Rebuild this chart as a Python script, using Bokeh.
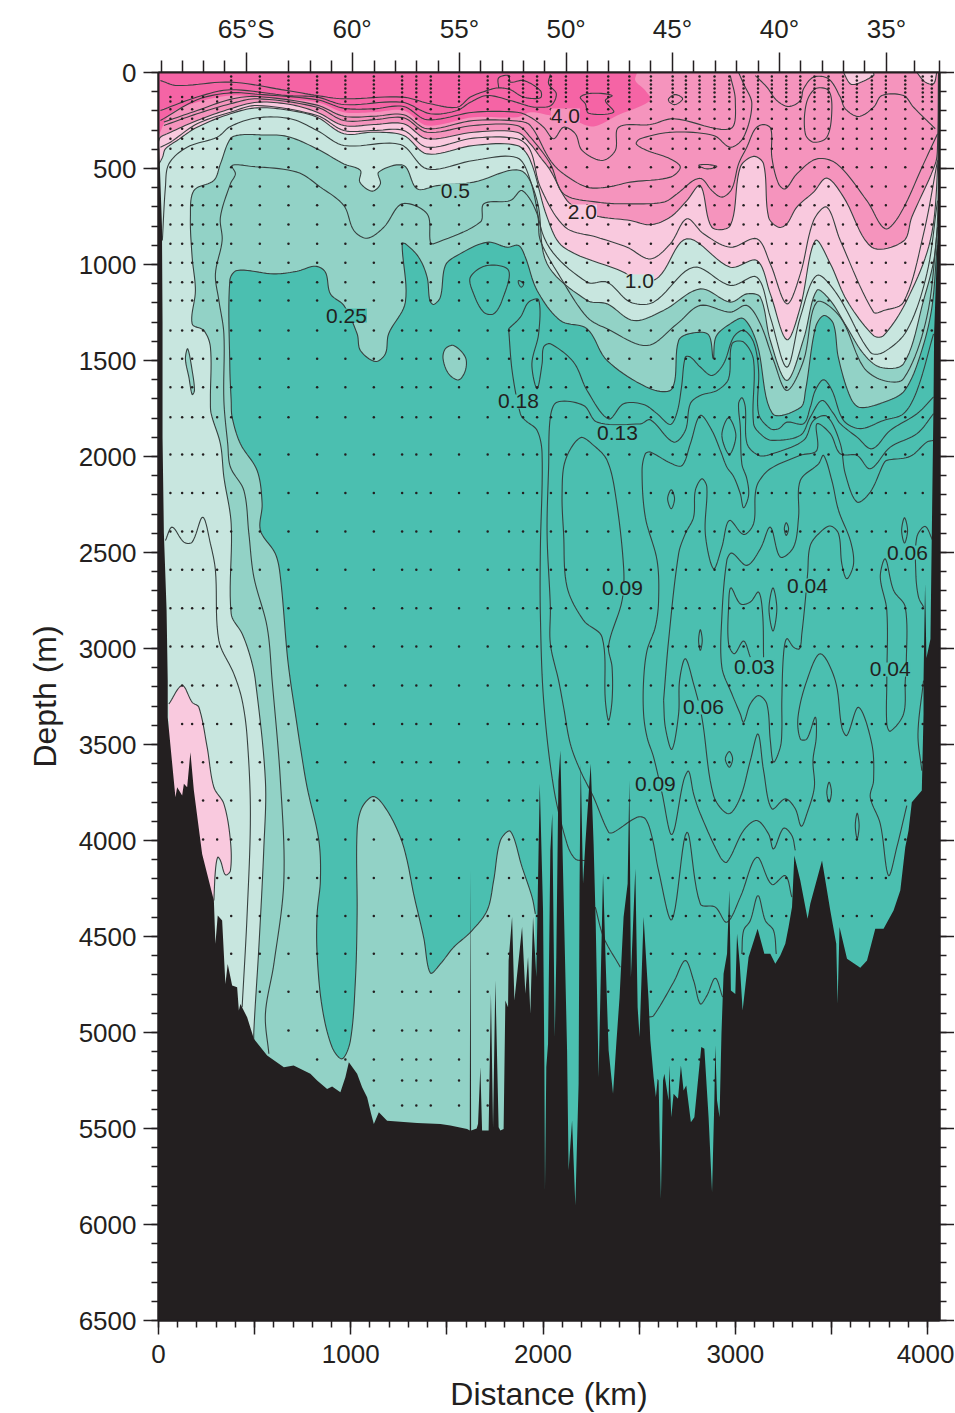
from bokeh.plotting import figure
from bokeh.embed import file_html
from bokeh.resources import INLINE
from bokeh.models import Range1d, LinearAxis, FixedTicker, Label

# ---------- colours ----------
HOT = "#f564a5"; MED = "#f594bd"; LPK = "#f9c9de"; LGR = "#c8e6df"; MGR = "#92d2c6"; TEAL = "#4bbfb0"; INK = "#231f20"
LINE_COL = "#37403f"

# ---------- band boundaries (distance km, depth m) ----------
hot_bottom = [(0,340),(5,319),(62,215),(201,155),(374,120),(513,128),(825,155),(964,207),(1120,207),(1275,198),(1397,276),(1639,233),(1865,233),(1934,207),(2038,224),(2159,250),(2263,281),(2385,224),(2558,146),(2532,94),(2480,42),(2489,0)]
med_bottom = [(0,360),(10,337),(45,319),(201,250),(374,189),(513,155),(686,167),(825,207),(964,276),(1120,271),(1275,267),(1397,345),(1639,311),(1865,311),(1934,372),(1986,441),(2038,510),(2125,667),(2203,719),(2289,750),(2454,771),(2558,793),(2662,753),(2748,667),(2818,589),(2878,806),(2974,797),(3026,493),(3095,437),(3147,476),(3173,753),(3225,806),(3268,788),(3320,701),(3407,623),(3476,550),(3563,649),(3710,910),(3875,878),(3918,753),(4040,476),(4052,372),(4057,0)]
lpk_bottom = [(0,480),(21,441),(36,398),(97,354),(201,285),(374,215),(513,184),(686,198),(825,233),(964,319),(1120,311),(1275,328),(1397,424),(1639,380),(1865,380),(1934,458),(2021,753),(2107,910),(2419,1040),(2497,1092),(2601,1066),(2748,866),(2974,1014),(3112,979),(3182,1153),(3268,1392),(3338,1222),(3416,875),(3494,996),(3580,1187),(3719,1370),(3771,1370),(3892,1187),(4014,875),(4052,493),(4057,0)]
lgr_bound = [(496,5100),(496,4990),(522,4556),(548,4035),(556,3688),(504,3167),(478,3045),(435,2923),(378,2819),(378,2350),(340,2107),(322,1934),(274,1777),(270,1708),(270,1430),(236,1344),(175,1309),(192,1135),(175,962),(166,753),(184,615),(288,562),(322,476),(374,345),(426,325),(530,325),(669,333),(825,398),(964,476),(1050,510),(1047,571),(1111,618),(1154,580),(1145,519),(1275,484),(1345,606),(1449,589),(1639,571),(1882,510),(1969,667),(2021,996),(2229,1187),(2333,1205),(2471,1292),(2627,1239),(2818,1127),(2974,1196),(3060,1153),(3130,1170),(3182,1396),(3268,1604),(3355,1389),(3424,1135),(3494,1187),(3580,1326),(3667,1465),(3754,1535),(3875,1517),(3979,1187),(4040,927),(4057,493),(4057,0)]
teal_bound = [(1960,4382),(1943,4295),(1891,4139),(1830,3952),(1778,4000),(1743,4209),(1709,4365),(1622,4478),(1535,4556),(1466,4643),(1414,4690),(1379,4504),(1327,4278),(1293,4104),(1258,3983),(1189,3844),(1120,3771),(1059,3827),(1033,3948),(1033,4382),(1024,4729),(998,5042),(955,5137),(903,5077),(851,4868),(825,4591),(825,4382),(842,4209),(834,4000),(773,3723),(738,3514),(712,3341),(686,3167),(669,3027),(634,2628),(608,2507),(530,2385),(539,2246),(513,2073),(426,1934),(383,1795),(378,1708),(371,1535),(371,1083),(409,1031),(600,1049),(721,1035),(816,1009),(868,1040),(894,1153),(964,1213),(1033,1361),(1050,1448),(1128,1505),(1180,1465),(1197,1361),(1284,1196),(1267,892),(1284,892),(1353,962),(1397,1066),(1411,1187),(1431,1208),(1466,1170),(1492,1005),(1553,953),(1709,884),(1813,910),(1873,901),(1908,962),(1969,1135),(2090,1292),(2229,1335),(2333,1500),(2558,1647),(2671,1647),(2705,1396),(2767,1359),(2860,1365),(2885,1490),(2900,1375),(2975,1308),(3043,1282),(3113,1413),(3193,1776),(3339,1745),(3365,1657),(3417,1328),(3460,1266),(3510,1308),(3536,1485),(3599,1693),(3650,1745),(3797,1708),(3880,1657),(3953,1500),(4020,1240),(4050,900)]
oval_mid = [(1535,1422),(1596,1483),(1596,1552),(1561,1601),(1509,1569),(1480,1491),(1492,1439),(1535,1422)]
oval_left = [(152,1439),(175,1552),(187,1656),(175,1677),(158,1587),(140,1491),(152,1439)]
pink_patch = [(54,3289),(123,3193),(175,3280),(210,3306),(253,3514),(288,3723),(340,3809),(374,4000),(374,4157),(348,4179),(322,4104),(308,4087),(296,4157),(288,4313)]
patch_tr1 = [(3563,0),(3598,59),(3632,59),(3719,16),(3719,0)]
patch_tr2 = [(3944,0),(3988,50),(4031,59),(4048,0)]
hot_loop = [(2194,128),(2255,108),(2359,120),(2324,146),(2367,207),(2237,212),(2220,163),(2194,128)]

# ---------- contour lines without a colour change ----------
c_surface = [(10,42),(97,68),(374,50),(669,94),(825,120),(964,137),(1267,128),(1414,163),(1553,181),(1622,128),(1709,94),(1769,80),(1830,90),(1899,128),(1986,132),(1986,94),(1899,42),(1830,50),(1821,16),(1769,28),(1769,80)]
c_b1 = [(10,198),(201,128),(374,90),(669,120),(825,128),(964,167),(1267,155),(1414,215),(1553,198),(1622,155),(1709,120),(1830,146),(1934,177),(1969,181),(2041,172),(2069,111),(2029,59),(2038,10)]
c_b2 = [(10,250),(201,142),(374,106),(513,113),(825,142),(964,186),(1120,189),(1275,177),(1397,246),(1639,207),(1865,207),(1934,233),(2003,285),(2055,345),(2107,285),(2168,319),(2203,406),(2307,458),(2376,406),(2393,285),(2558,271),(2679,241),(2974,293),(3000,146),(2974,16)]
c_b3 = [(28,276),(201,215),(374,163),(513,137),(825,181),(964,250),(1120,246),(1275,236),(1397,311),(1639,276),(1865,276),(1934,337),(2038,476),(2107,632),(2281,675),(2454,684),(2627,675),(2697,632),(2783,562),(2826,554),(2878,615),(2931,649),(2982,606),(3017,476),(3060,389),(3104,293),(3147,271),(3185,293),(3190,441),(3225,580),(3260,606),(3320,528),(3424,450),(3528,476),(3684,667),(3780,814),(3858,736),(3979,476),(4052,319)]
c_b4 = [(28,258),(201,198),(374,140),(513,125),(825,170),(964,228),(1120,228),(1275,220),(1397,293),(1639,250),(1865,253),(1934,276),(2038,458),(2107,528),(2229,597),(2333,597),(2454,571),(2662,545),(2714,493),(2662,450),(2541,406),(2485,372),(2506,345),(2671,311),(2887,328),(2974,389),(3043,337),(3086,163),(3043,59),(3017,0)]
c_r2 = [(3104,16),(3164,76),(3216,146),(3277,177),(3338,146),(3355,85),(3407,24),(3485,33),(3546,128),(3572,189),(3641,229),(3719,181),(3762,120),(3875,120),(3927,181),(4040,293)]
c_r2_loop = [(3416,85),(3485,94),(3502,198),(3476,337),(3407,363),(3364,319),(3369,163),(3416,85)]
c_small1 = [(2653,137),(2688,115),(2726,137),(2688,167),(2658,154),(2653,137)]
c_small2 = [(2809,484),(2853,479),(2904,490),(2853,502),(2809,484)]
c_lpk_in = [(10,389),(62,363),(201,267),(374,207),(513,172),(825,224),(964,302),(1120,302),(1275,302),(1397,389),(1639,342),(1865,345),(1934,406),(1986,597),(2116,806),(2281,858),(2437,910),(2558,971),(2662,892),(2748,762),(2835,840),(2974,910),(3112,866),(3182,996),(3268,1205),(3338,1049),(3407,771),(3476,701),(3546,875),(3719,1248),(3771,1240),(3875,1196),(3979,840),(4052,458)]
c_lgr_in = [(20,875),(36,597),(54,476),(149,389),(305,337),(374,281),(513,236),(686,241),(825,302),(964,380),(1258,375),(1397,502),(1639,458),(1865,444),(1934,562),(2021,892),(2229,1092),(2333,1092),(2454,1196),(2575,1196),(2783,1014),(2974,1109),(3112,1066),(3182,1274),(3268,1535),(3338,1274),(3424,1057),(3528,1153),(3702,1457),(3771,1457),(3892,1344),(3996,1049),(4052,667)]
c_mid_in = [(574,5111),(556,4903),(600,4643),(652,4209),(634,3688),(591,3167),(565,2888),(496,2628),(470,2402),(444,2177),(374,2055),(360,1934),(340,1708),(340,1361),(314,1187),(296,1049),(331,875),(322,753),(374,580),(400,528),(383,484),(478,488),(721,519),(842,597),(964,693),(1016,823),(1085,863),(1172,806),(1267,684),(1397,736),(1414,884),(1431,892),(1674,779),(1692,684),(1830,667),(1891,615),(1969,736),(1986,875),(2090,1066),(2229,1274),(2333,1335),(2541,1422),(2697,1309),(2818,1213),(2974,1248),(3060,1213),(3130,1309),(3199,1500),(3268,1656),(3355,1500),(3424,1196),(3546,1274),(3667,1535),(3771,1604),(3875,1595),(3996,1274),(4052,805)]
c_left = [(36,2437),(71,2368),(132,2446),(175,2446),(230,2316),(270,2454),(296,2593),(314,2958),(392,3132),(435,3270),(461,3462),(478,3861),(461,4382),(435,4868)]
c_t_a = [(1622,1066),(1709,1005),(1821,1031),(1787,1187),(1743,1257),(1691,1248),(1639,1153),(1622,1066)]
c_t_s = [(1873,1083),(1899,1100),(1887,1118),(1873,1100),(1873,1083)]
c_t_b = [(1821,1335),(1882,1274),(1925,1196),(1977,1184),(1977,1361),(1942,1517),(1969,1647),(1995,1517),(2003,1430),(2038,1413),(2159,1509),(2229,1656),(2341,1804),(2419,1725),(2523,1729),(2593,1777),(2662,1833),(2697,1770),(2720,1640),(2740,1483),(2766,1482),(2818,1534),(2879,1578),(2939,1517),(2991,1378),(3043,1343),(3095,1404),(3121,1552),(3121,1777),(3182,1855),(3225,1855),(3269,1821),(3355,1829),(3390,1743),(3416,1656),(3459,1600),(3503,1656),(3563,1812),(3650,1855),(3771,1812),(3875,1777),(3945,1656),(4031,1361)]
c_t_c = [(1821,1335),(1840,1560),(1882,1777),(1908,1812),(1969,1864),(1995,1986),(1986,2489),(1986,2819),(2003,3270),(2055,3723),(2125,4018),(2168,4096),(2220,4105)]
c_t_d = [(3294,4295),(3260,4183),(3190,4229),(3112,4087),(3026,4295),(2956,4426),(2896,4347),(2818,4330),(2748,3957),(2670,4413),(2601,4157),(2567,3983),(2532,3887),(2489,3879),(2367,3957),(2341,3957),(2263,3775),(2194,3636),(2142,3497),(2107,3306),(2081,3167),(2038,2975),(2038,2784),(2021,2402),(2029,2055),(2038,1795),(2073,1717),(2211,1734),(2281,1821),(2506,1830),(2558,1809),(2679,1925),(2740,1865),(2766,1725),(2818,1682),(2905,1656),(2965,1595),(2983,1413),(3043,1404),(3095,1499),(3095,1829),(3139,1890),(3191,1916),(3338,1890),(3390,1795),(3451,1708),(3511,1777),(3546,1829),(3633,1899),(3711,1960),(3806,1864),(3945,1777),(4031,1690)]
c_d2 = [(3312,4052),(3294,3974),(3251,3936),(3199,4044),(3173,3966),(3112,3896),(3043,3948),(2956,4113),(2922,4087),(2818,3861),(2783,3757),(2757,3639),(2731,3688),(2670,3969),(2618,3749),(2575,3566),(2541,3462),(2523,3341),(2523,3167),(2541,3010),(2584,2888),(2601,2750),(2593,2541),(2532,2316),(2515,2073),(2532,1986),(2558,1977),(2662,2034),(2723,2047),(2766,1934),(2818,1786),(2878,1864),(2922,1968),(2956,2055),(2991,2104),(3026,2194),(3043,2267),(3069,2203),(3060,2116),(3034,2038),(3026,1847),(3017,1725),(3035,1694),(3052,1743),(3061,1933),(3121,1994),(3182,1989),(3355,1916),(3407,1812),(3477,1791),(3546,1933),(3572,2090),(3633,2237),(3702,2185),(3771,2038),(3788,2020),(3910,1999),(3996,1925),(4031,1916)]
c_d3 = [(2627,3270),(2636,3410),(2670,3526),(2705,3341),(2710,3167),(2740,3053),(2783,3184),(2826,3358),(2887,3766),(2965,3861),(3026,3775),(3078,3584),(3118,3445),(3147,3636),(3190,3835),(3260,3783),(3312,3835),(3343,3926),(3372,3861),(3411,3723),(3404,3584),(3421,3462),(3416,3358),(3372,3471),(3338,3471),(3326,3358),(3372,3167),(3442,3027),(3520,3167),(3554,3410),(3580,3453),(3641,3306),(3710,3497),(3719,3688),(3702,3775),(3754,3913),(3797,4183),(3840,4035),(3892,3818)]
c_d3_up = [(2627,3270),(2653,2958),(2705,2507),(2740,2402),(2783,2316),(2792,2177),(2826,2116),(2852,2159),(2844,2402),(2887,2585),(2930,2472),(2969,2333),(3043,2406),(3095,2350),(3104,2194),(3121,2133),(3182,2064),(3338,1994),(3424,1968),(3424,1830),(3494,1881),(3546,1986),(3633,1994),(3702,2064),(3806,1951),(3945,1881),(4031,1777)]
c_d4 = [(2982,3236),(2930,3097),(2930,2836),(2956,2541),(2982,2503),(3060,2567),(3130,2481),(3182,2368),(3234,2524),(3303,2472),(3329,2316),(3338,2125),(3433,2038),(3459,1994),(3502,2125),(3537,2281),(3598,2437),(3615,2559),(3580,2637),(3554,2559),(3537,2402),(3494,2362),(3442,2394),(3390,2463),(3376,2611),(3364,2750),(3346,2923),(3334,3001),(3303,2993),(3268,2949),(3251,3027),(3242,3270),(3242,3427),(3234,3514),(3199,3592),(3182,3479),(3164,3289),(3121,3245),(3078,3289),(3043,3384),(3026,3341),(2982,3236)]
c_d1 = [(2116,2020),(2194,1902),(2263,1942),(2333,2020),(2376,2194),(2419,2576),(2411,2750),(2341,2984),(2359,3097),(2359,3270),(2341,3375),(2324,3270),(2307,2941),(2211,2854),(2125,2680),(2107,2402),(2099,2194),(2116,2020)]
c_03 = [(3078,3045),(3043,2961),(2995,3027),(2965,2975),(2965,2784),(2977,2684),(3026,2767),(3078,2758),(3121,2706),(3142,2819),(3147,3045)]
c_right1 = [(3884,3167),(3875,3341),(3806,3431),(3788,3393),(3788,3167),(3788,2802),(3754,2628),(3780,2533),(3823,2697),(3884,2784),(3889,3097),(3884,3167)]
c_right2 = [(3979,2784),(3953,2732),(3939,2611),(3944,2420),(3987,2364),(4027,2437)]
c_right3 = [(3979,3167),(3950,3445),(3970,3636)]
c_e1 = [(2272,4347),(2315,4504),(2402,4660)]
c_e2 = [(2549,4920),(2575,4912),(2679,4738),(2740,4625),(2783,4729),(2818,4851),(2852,4808),(2896,4717),(2934,4816)]
c_e3 = [(3034,4591),(3043,4469),(3078,4417),(3118,4287),(3156,4417),(3199,4469),(3213,4591)]
c_ovals = [
    [(2948,3575),(2969,3537),(2986,3575),(2969,3618),(2948,3575)],
    [(3476,3749),(3488,3696),(3500,3749),(3488,3801),(3476,3749)],
    [(3624,3922),(3634,3858),(3644,3922),(3634,3991),(3624,3922)],
    [(2930,1890),(2965,1798),(3003,1890),(2969,1989),(2930,1890)],
    [(2648,2220),(2667,2173),(2684,2220),(2667,2272),(2648,2220)],
    [(3255,2376),(3265,2345),(3277,2376),(3265,2411),(3255,2376)],
    [(3865,2385),(3880,2319),(3896,2385),(3880,2451),(3865,2385)],
    [(3175,2793),(3196,2684),(3216,2793),(3196,2909),(3175,2793)],
    [(2809,2958),(2818,2902),(2828,2958),(2818,3010),(2809,2958)],
]

# ---------- sea floor ----------
seafloor = [(0,6500),(0,350),(4,400),(18,800),(21,1300),(21,1900),(28,2400),(42,2800),(48,3167),(48,3358),(88,3775),(97,3723),(123,3766),(132,3705),(149,3723),(166,3540),(184,3740),(227,4070),(288,4313),(296,4538),(308,4391),(331,4417),(348,4747),(360,4643),(383,4755),(409,4764),(418,4886),(426,4851),(461,4920),(496,5033),(565,5120),(652,5181),(703,5172),(790,5215),(825,5250),(877,5294),(903,5281),(946,5311),(972,5233),(990,5155),(1033,5215),(1059,5285),(1085,5337),(1106,5424),(1120,5476),(1146,5415),(1189,5459),(1345,5472),(1466,5476),(1518,5484),(1605,5502),(1619,5510),(1622,4156),(1626,5510),(1655,5500),(1662,5475),(1674,5180),(1683,5510),(1717,5510),(1729,4798),(1740,5493),(1752,4729),(1769,5493),(1778,5510),(1795,5502),(1804,4833),(1818,4868),(1821,4625),(1839,4399),(1851,4833),(1891,4451),(1908,4798),(1922,4607),(1934,4902),(1948,4399),(1965,4711),(1983,3705),(2000,4364),(2007,5180),(2010,5823),(2017,5180),(2026,5059),(2038,4052),(2048,3861),(2061,5024),(2069,4607),(2080,3687),(2090,3531),(2100,3982),(2125,5093),(2133,5718),(2151,5458),(2168,5901),(2185,5267),(2190,4225),(2196,3600),(2208,4225),(2220,4017),(2248,3600),(2263,4017),(2274,4434),(2289,5232),(2298,4816),(2312,4173),(2326,4642),(2341,5093),(2364,5319),(2381,5059),(2398,4816),(2419,4399),(2440,4225),(2449,3687),(2457,4711),(2480,4147),(2492,4868),(2502,5024),(2523,4399),(2549,4833),(2558,5041),(2575,5232),(2587,5336),(2596,5241),(2601,5250),(2613,5866),(2624,5250),(2631,5215),(2653,5354),(2657,5172),(2667,5441),(2679,5319),(2702,5345),(2717,5172),(2731,5302),(2745,5276),(2769,5467),(2787,5441),(2823,5076),(2839,5085),(2861,5441),(2879,5831),(2891,5354),(2896,5067),(2905,5354),(2918,5441),(2928,5007),(2934,4833),(2939,4694),(2957,4590),(2969,4260),(2977,4781),(3000,4799),(3009,4486),(3023,4642),(3038,4885),(3069,4608),(3116,4460),(3151,4590),(3182,4590),(3208,4642),(3234,4599),(3260,4538),(3277,4451),(3295,4347),(3307,4078),(3338,4208),(3376,4408),(3390,4330),(3451,4104),(3494,4365),(3525,4538),(3532,4851),(3542,4451),(3581,4616),(3633,4651),(3650,4663),(3685,4625),(3728,4460),(3771,4460),(3823,4365),(3858,4260),(3884,4035),(3901,3948),(3918,3801),(3970,3740),(3979,3341),(3979,3167),(3987,2663),(3994,3050),(4015,2950),(4022,2402),(4031,1708),(4034,1361),(4052,840),(4062,200),(4062,6500)]

# ---------- stations ----------
station_km = [62,123,175,232,305,378,527,676,825,972,1120,1267,1341,1416,1563,1712,1823,1896,1969,2041,2119,2229,2339,2449,2561,2674,2743,2814,2892,2969,3043,3118,3190,3265,3338,3412,3485,3560,3632,3710,3783,3884,3975,4022]
station_max = [3290,3660,3530,4040,4240,4640,4930,5100,5140,5150,5380,5400,5400,5400,5410,5460,4630,4430,4640,3290,3600,3920,4995,3900,4920,5270,5150,5280,5300,4450,4730,4365,4520,4450,4120,4140,4260,4400,4530,4400,4310,4000,3740,1400]
near_surface_depth = [21,42,62,83,104]
sample_depth = [128,151,191,241,293,345,397,493,594,691,792,892,991,1092,1188,1344,1491,1639,1795,1990,2190,2390,2590,2790,2990,3193,3393,3592,3792,3995,4195,4393,4590,4788,4990,5140,5250,5380]
first_dense_station = 378

# ---------- labels ----------
label_text = ["4.0","0.5","2.0","1.0","0.25","0.18","0.13","0.09","0.06","0.04","0.03","0.04","0.06","0.09"]
label_km = [2116,1544,2205,2501,978,1872,2387,2413,3895,3375,3099,3806,2834,2584]
label_depth = [224,615,724,1088,1266,1713,1875,2687,2500,2672,3094,3109,3307,3708]
label_bg = [MED,MGR,LPK,LGR,TEAL,TEAL,TEAL,TEAL,TEAL,TEAL,TEAL,TEAL,TEAL,TEAL]

# ---------- axes ----------
lat_km = [456,1007,1565,2120,2673,3230,3786]
lat_label = ["65°S","60°","55°","50°","45°","40°","35°"]
lat_minor = [14,123,232,343,676,790,899,1121,1232,1341,1454,1674,1787,1896,2007,2229,2339,2450,2561,2785,2896,3007,3119,3338,3452,3561,3674,3930,4062]
dist_long = list(range(0,4001,500))
dist_labelled = list(range(0,4001,1000))
dist_minor = list(range(0,4001,100))
depth_major = list(range(0,6501,500))
depth_minor = list(range(0,6501,100))


def smooth(pts, n=10):
    """Draw a curve through the read points (rendering only)."""
    out = []
    N = len(pts)
    closed = pts[0] == pts[-1] and N > 3
    def d(a, b):
        return max(((a[0]-b[0])**2 + (a[1]-b[1])**2)**0.5, 1e-6)
    def tan(i, seg):
        if closed:
            p = pts[(i-1) % (N-1)]; q = pts[(i+1) % (N-1)]
        else:
            p = pts[max(i-1, 0)]; q = pts[min(i+1, N-1)]
        L = d(p, pts[i]) + d(q, pts[i])
        return ((q[0]-p[0])/L*seg, (q[1]-p[1])/L*seg)
    for i in range(N-1):
        a, b = pts[i], pts[i+1]
        seg = d(a, b)
        ta, tb = tan(i, seg), tan(i+1, seg)
        for k in range(n):
            t = k/n
            h00 = 2*t**3-3*t**2+1; h10 = t**3-2*t**2+t; h01 = -2*t**3+3*t**2; h11 = t**3-t**2
            out.append((h00*a[0]+h10*ta[0]+h01*b[0]+h11*tb[0], h00*a[1]+h10*ta[1]+h01*b[1]+h11*tb[1]))
    out.append(pts[-1])
    return out


p = figure(x_range=Range1d(0, 4062), y_range=Range1d(6500, 0), frame_width=781, frame_height=1248,
           min_border_left=158, min_border_right=15, min_border_top=72, min_border_bottom=90,
           toolbar_location=None, output_backend="svg", background_fill_color=MGR, border_fill_color="white",
           outline_line_color=INK, outline_line_width=2)
p.grid.visible = False


def fill(line, closure, color):
    s = smooth(line) + closure
    p.patch([a for a, _ in s], [b for _, b in s], fill_color=color, line_color=None)


def contour(line, width=1.1):
    s = smooth(line)
    p.line([a for a, _ in s], [b for _, b in s], line_color=LINE_COL, line_width=width)


fill(teal_bound, [(4062, 900), (4062, 6500), (1960, 6500)], TEAL)
fill(oval_mid, [], MGR)
fill(lgr_bound, [(0, 0), (0, 6500), (496, 6500)], LGR)
fill(oval_left, [], MGR)
fill(lpk_bottom, [(0, 0)], LPK)
fill(pink_patch, [(288, 4400), (54, 4400)], LPK)
fill(med_bottom, [(0, 0)], MED)
fill(patch_tr1, [], LPK)
fill(patch_tr2, [], LPK)
fill(hot_bottom, [(0, 0)], HOT)

for ln in [hot_loop, pink_patch, patch_tr1, patch_tr2, oval_mid, oval_left, teal_bound, lgr_bound, lpk_bottom, med_bottom,
           c_surface, c_b1, c_b2, c_b3, c_b4, c_r2, c_r2_loop, c_small1, c_small2, c_lpk_in, c_lgr_in, c_mid_in,
           c_left, c_t_a, c_t_s, c_t_b, c_t_c, c_t_d, c_d2, c_d3, c_d3_up, c_d4, c_d1, c_03, c_right1, c_right2,
           c_right3, c_e1, c_e2, c_e3] + c_ovals:
    contour(ln)

dots = [(k, z) for k, m in zip(station_km, station_max) for z in sample_depth if z <= m]
dots += [(k, z) for k in station_km if k >= first_dense_station for z in near_surface_depth]
p.scatter([a for a, _ in dots], [b for _, b in dots], size=2.5, fill_color=INK, line_color=None)

p.patch([a for a, _ in seafloor], [b for _, b in seafloor], fill_color=INK, line_color=None)

for t, x, y, bg in zip(label_text, label_km, label_depth, label_bg):
    p.add_layout(Label(x=x, y=y, text=t, text_font="Liberation Sans", text_font_size="21px", text_color=INK,
                       text_align="center", text_baseline="middle", background_fill_color=bg))


def style(ax, out_major, out_minor, standoff=6):
    ax.axis_line_color = INK
    ax.axis_line_width = 2
    ax.major_tick_line_color = INK
    ax.minor_tick_line_color = INK
    ax.major_tick_line_width = 1.5
    ax.minor_tick_line_width = 1.5
    ax.major_tick_in = 0
    ax.minor_tick_in = 0
    ax.major_tick_out = out_major
    ax.minor_tick_out = out_minor
    ax.major_label_standoff = standoff
    ax.major_label_text_font = "Liberation Sans"
    ax.major_label_text_font_size = "26px"
    ax.major_label_text_color = INK
    ax.axis_label_text_font = "Liberation Sans"
    ax.axis_label_text_font_size = "32px"
    ax.axis_label_text_font_style = "normal"
    ax.axis_label_text_color = INK


def hide_labels(ax):
    ax.major_label_text_color = None
    ax.major_label_text_font_size = "0px"
    ax.major_label_standoff = 0


# ticks of the distance axis, every 500 km long, every 100 km short
bottom = p.xaxis[0]
bottom.ticker = FixedTicker(ticks=dist_long, minor_ticks=dist_minor)
style(bottom, 14, 7, 0)
hide_labels(bottom)

# numbers and title of the distance axis, stacked under the ticks
bottom_text = LinearAxis(ticker=FixedTicker(ticks=dist_labelled), axis_label="Distance (km)")
style(bottom_text, 0, 0, 10)
bottom_text.axis_line_color = None
bottom_text.major_tick_line_color = None
bottom_text.minor_tick_line_color = None
bottom_text.axis_label_standoff = 10
p.add_layout(bottom_text, "below")

left = p.yaxis[0]
left.ticker = FixedTicker(ticks=depth_major, minor_ticks=depth_minor)
left.axis_label = "Depth (m)"
style(left, 15, 7, 7)
left.axis_label_standoff = 13

top = LinearAxis(ticker=FixedTicker(ticks=lat_km, minor_ticks=lat_minor),
                 major_label_overrides=dict(zip(lat_km, lat_label)))
style(top, 20, 12, 9)
p.add_layout(top, "above")

right = LinearAxis(ticker=FixedTicker(ticks=depth_major, minor_ticks=depth_minor))
style(right, 15, 7, 0)
hide_labels(right)
p.add_layout(right, "right")

open("out.html", "w").write(file_html(p, INLINE))
